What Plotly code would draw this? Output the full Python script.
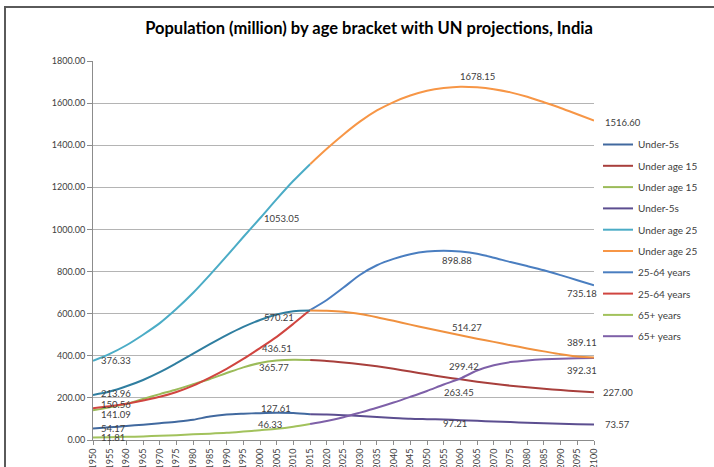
import plotly.graph_objects as go

# Years on the two halves of the chart (estimates up to 2015, UN projections after)
hist_years = [1950, 1955, 1960, 1965, 1970, 1975, 1980, 1985, 1990, 1995, 2000, 2005, 2010, 2015]
proj_years = [2015, 2020, 2025, 2030, 2035, 2040, 2045, 2050, 2055, 2060, 2065, 2070, 2075, 2080,
              2085, 2090, 2095, 2100]

# Cumulative population by age bracket, millions
under5_hist = [54.17, 60, 67, 73, 80, 87, 96, 112, 121, 125, 127.61, 129, 128, 122]
under5_proj = [122, 121, 118, 114, 109, 105, 101, 99, 97.21, 94, 91, 88, 85, 82, 79, 77, 75, 73.57]

under15_hist = [141.09, 155, 172, 195, 218, 240, 265, 290, 318, 345, 365.77, 377, 381, 380]
under15_proj = [380, 375, 368, 360, 350, 338, 325, 312, 299.42, 288, 277, 267, 258, 250, 243, 237,
                232, 227.00]

under25_hist = [213.96, 230, 255, 285, 322, 365, 410, 455, 498, 537, 570.21, 596, 612, 615]
under25_proj = [615, 614, 609, 598, 583, 566, 548, 531, 514.27, 497, 481, 466, 450, 435, 421, 407,
                396, 392.31]

total_hist = [376.33, 409, 450, 500, 555, 623, 699, 784, 873, 964, 1053.05, 1144, 1231, 1310]
total_proj = [1310, 1383, 1451, 1513, 1565, 1605, 1636, 1659, 1672, 1678.15, 1675, 1666, 1651,
              1630, 1604, 1577, 1547, 1516.60]

age25_64_hist = [150.56, 160, 172, 188, 205, 228, 258, 296, 338, 385, 436.51, 490, 552, 617]
age25_64_proj = [617, 665, 724, 785, 830, 860, 882, 895, 898.88, 895, 885, 866, 845, 826, 806,
                 783, 759, 735.18]

age65_hist = [11.81, 13, 15, 17, 20, 23, 27, 30, 34, 40, 46.33, 53, 63, 76]
age65_proj = [76, 90, 108, 130, 153, 178, 205, 233, 263.45, 292, 330, 355, 370, 378, 383, 386,
              388, 389.11]

y_ticks = [0, 200, 400, 600, 800, 1000, 1200, 1400, 1600, 1800]
x_ticks = list(range(1950, 2101, 5))

# (legend name, years, values, colour, shown in legend)
series = [
    ("Under-5s", hist_years, under5_hist, "#41699F", True),
    ("Under age 15", proj_years, under15_proj, "#A83F3C", True),
    ("Under age 15", hist_years, under15_hist, "#9BBB59", True),
    ("Under-5s", proj_years, under5_proj, "#5C4E90", True),
    ("Under age 25", hist_years, total_hist, "#4BACC6", True),
    ("Under age 25", proj_years, total_proj, "#F79646", True),
    ("25-64 years", proj_years, age25_64_proj, "#4A7EC0", True),
    ("25-64 years", hist_years, age25_64_hist, "#D04540", True),
    ("65+ years", hist_years, age65_hist, "#A2C25C", True),
    ("65+ years", proj_years, age65_proj, "#7E60A8", True),
    ("Under age 25", hist_years, under25_hist, "#2F7EA0", False),
    ("Under age 25", proj_years, under25_proj, "#F0913F", False),
]

fig = go.Figure()
for i, (name, xs, ys, color, show) in enumerate(series):
    fig.add_trace(go.Scatter(
        x=xs, y=ys, name=name, mode="lines",
        line=dict(color=color, width=2, shape="spline", smoothing=0.8),
        showlegend=show, legendgroup=f"g{i}", hoverinfo="x+y+name",
    ))

# Value labels: (years, values, year to label, xanchor, xshift, yshift)
label_spots = [
    (hist_years, total_hist, 1950, "left", 6, 0),
    (hist_years, under25_hist, 1950, "left", 6, 1),
    (hist_years, age25_64_hist, 1950, "left", 6, 4),
    (hist_years, under15_hist, 1950, "left", 6, -4),
    (hist_years, under5_hist, 1950, "left", 6, 0),
    (hist_years, age65_hist, 1950, "left", 6, 0),
    (hist_years, total_hist, 2000, "left", 2, 0),
    (hist_years, under25_hist, 2000, "left", 2, 2),
    (hist_years, age25_64_hist, 2000, "left", 0, 0),
    (hist_years, under15_hist, 2000, "left", -3, -5),
    (hist_years, under5_hist, 2000, "left", -1, 5),
    (hist_years, age65_hist, 2000, "left", -4, 6),
    (proj_years, total_proj, 2060, "left", -2, 10),
    (proj_years, age25_64_proj, 2055, "left", -4, -10),
    (proj_years, under25_proj, 2055, "left", 6, 4),
    (proj_years, under15_proj, 2055, "left", 3, 10),
    (proj_years, age65_proj, 2055, "left", -2, -8),
    (proj_years, under5_proj, 2055, "left", -3, -4),
    (proj_years, total_proj, 2100, "left", 9, -2),
    (proj_years, age25_64_proj, 2100, "right", 5, -8),
    (proj_years, age65_proj, 2100, "right", 5, 16),
    (proj_years, under25_proj, 2100, "right", 5, -13),
    (proj_years, under15_proj, 2100, "left", 7, 0),
    (proj_years, under5_proj, 2100, "left", 9, 0),
]
for xs, ys, yr, anchor, dx, dy in label_spots:
    v = ys[xs.index(yr)]
    fig.add_annotation(
        x=yr, y=v, xref="x", yref="y", text=f"{v:.2f}", showarrow=False,
        xanchor=anchor, yanchor="middle", xshift=dx, yshift=dy,
        font=dict(family="Lato, Open Sans, sans-serif", size=9.5, color="#404040"),
    )

# Outer chart frame
fig.add_shape(type="rect", xref="paper", yref="paper",
              x0=(5 - 93) / 501, x1=(720 - 93) / 501,
              y0=(440 - 475) / 379, y1=(440 - 7) / 379,
              line=dict(color="#5A5A5A", width=2), layer="below")

fig.update_layout(
    width=714, height=467,
    margin=dict(l=93, r=120, t=61, b=27, autoexpand=False),
    paper_bgcolor="white", plot_bgcolor="white",
    title=dict(
        text="<b>Population (million) by age bracket with UN projections, India</b>",
        x=(369 - 93) / 501, xref="paper", xanchor="center",
        y=1 - 28 / 467, yref="container", yanchor="middle",
        font=dict(family="Lato, Open Sans, sans-serif", size=16.5, color="#000000"),
    ),
    legend=dict(
        x=(598 - 93) / 501, xanchor="left", y=(440 - 130) / 379, yanchor="top",
        font=dict(family="Lato, Open Sans, sans-serif", size=10, color="#404040"),
        tracegroupgap=2.3, bgcolor="rgba(0,0,0,0)", borderwidth=0,
    ),
    showlegend=True,
)

fig.update_xaxes(
    range=[1950, 2100], tickmode="array", tickvals=x_ticks, ticktext=[str(t) for t in x_ticks],
    tickangle=-90, showgrid=False, zeroline=False, showline=True, linecolor="#8C8C8C",
    linewidth=1, ticks="outside", ticklen=4, tickcolor="#8C8C8C",
    tickfont=dict(family="Lato, Open Sans, sans-serif", size=9, color="#404040"),
    automargin=False,
)
fig.update_yaxes(
    range=[0, 1800], tickmode="array", tickvals=y_ticks, ticktext=[f"{t:.2f}" for t in y_ticks],
    showgrid=True, gridcolor="#B4B4B4", gridwidth=1, zeroline=False, showline=True,
    linecolor="#8C8C8C", linewidth=1, ticks="outside", ticklen=5, tickcolor="#8C8C8C",
    tickfont=dict(family="Lato, Open Sans, sans-serif", size=9, color="#404040"),
    automargin=False,
)

fig.write_html("out.html")
